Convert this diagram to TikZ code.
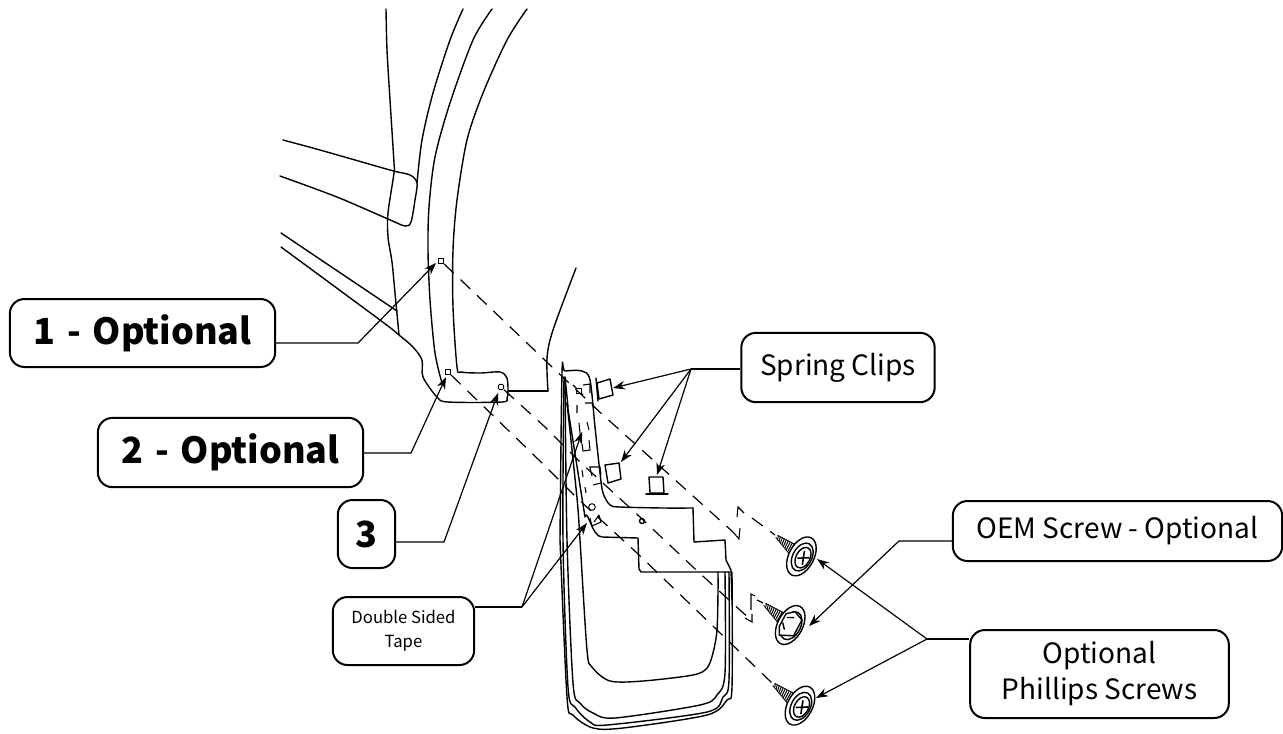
\documentclass[tikz,border=0pt]{standalone}
\usepackage{fontspec}
\setmainfont{Noto Sans CJK SC}
\usetikzlibrary{arrows.meta,calc}
\tikzset{
  art/.style={line width=1.05pt,black,line join=round,line cap=round},
  thin art/.style={line width=.8pt,black,line join=round},
  lab/.style={draw,line width=1.5pt,rounded corners=11pt,align=center,inner sep=0pt,fill=white,text=black},
  big/.style={lab,font=\fontsize{27}{30}\selectfont\bfseries},
  mid/.style={lab,font=\fontsize{21}{27}\selectfont},
  small/.style={lab,font=\fontsize{12.5}{18}\selectfont},
  lead/.style={line width=.9pt,black,-{Stealth[length=9pt,width=6.5pt]}},
  trunk/.style={line width=.9pt,black},
  axisline/.style={line width=.9pt,black,dash pattern=on 10pt off 7pt},
  tape/.style={line width=.8pt,black},
  hole/.style={draw,line width=.7pt,minimum size=4pt,inner sep=0pt,fill=white},
}
\newcommand{\threads}{%
  \foreach \t in {3,5.2,...,27}{
    \draw[line width=.75pt] ({\t},{-(1+.2*\t)}) -- ({\t+1.8},{1+.2*\t});
  }
  \draw[line width=.6pt] (2,-1.4) -- (27,-6.5) (2,1.4) -- (27,6.5);
}
\newcommand{\washer}[1]{%
  \draw[art,fill=white,rotate around={101:(#1,0)}] (#1,0) ellipse [x radius=21,y radius=12.5];
  \draw[art,fill=white,rotate around={101:(#1+1,0)}] (#1+1,0) ellipse [x radius=15,y radius=9.5];
}
\newcommand{\phillips}[1]{%
  \washer{#1}
  \draw[art,rotate around={101:(#1+2,0)}] (#1+2,0) ellipse [x radius=11,y radius=7];
  \draw[line width=1.2pt] (#1-1,-6) -- (#1+6,6) (#1+7,-4) -- (#1-2,4);
}
\begin{document}
\begin{tikzpicture}[x=.75pt,y=-.75pt]
\path[clip] (0,0) rectangle (1283,733);
\fill[white] (0,0) rectangle (1283,733);

% body lines
\draw[art] plot[smooth,tension=.5] coordinates {(386,9) (387,50) (390,100) (394,163) (394,173) (388,213) (388,237) (392,262) (395,293) (399,335)};
\draw[art] plot[smooth,tension=.5] coordinates {(463,9) (450,40) (433,93) (422,140) (417,183)};
\draw[art] plot[smooth,tension=.5] coordinates {(283,140) (320,150) (390,170) (410,175) (417,183) (415,200) (411,222) (405,226) (388,219) (337,197) (280,176)};
\draw[art] plot[smooth,tension=.5] coordinates {(492,9) (473,40) (450,103) (435,157) (429,207) (428,250) (430,300) (435,353) (442,383)};
\draw[art] plot[smooth,tension=.5] coordinates {(527,9) (507,40) (483,93) (467,140) (457,200) (453,250) (453,307) (457,367) (461,372) (480,373) (500,372) (507,378) (508,392) (507,398) (502,402) (448,402) (437,397) (423,377) (422,360) (413,347) (399,335) (380,320) (281,247)};
\draw[art] (281,233) -- (397,311);
\draw[art] plot[smooth,tension=.5] coordinates {(508,391) (548,391)};
\draw[art] plot[smooth,tension=.5] coordinates {(548,391) (547,358) (553,330) (576,268)};

% mud flap
\draw[art] plot[smooth,tension=.5] coordinates {(560,540) (562,373) (565,371) (582,371) (590,380) (595,427) (600,473) (603,493) (610,505) (620,507) (663,508) (693,508)};
\draw[art] (693,508) -- (694,542) -- (725,540) -- (726,560) -- (731,570) -- (732,600);
\draw[art] plot[smooth,tension=.5] coordinates {(732,572) (732,687) (727,700) (707,715) (623,728) (593,728) (573,715) (567,697) (560,540)};
\draw[art] plot[smooth,tension=.5] coordinates {(564,377) (563,540) (568,687) (575,707) (590,722) (607,725) (707,712) (723,697) (729,680) (729,572)};
\draw[art] plot[smooth,tension=.5] coordinates {(565,377) (567,540) (573,683) (580,703) (593,713) (615,718) (700,705) (717,695) (725,673) (725,572)};
\draw[art] plot[smooth,tension=.5] coordinates {(567,403) (577,498) (580,540) (587,650) (592,667) (610,681) (643,681) (693,675) (707,668) (713,653) (717,630) (718,592) (718,572)};
\draw[art] (567,403) -- (585,517) to[out=75,in=180] (602,537) -- (638,538) -- (639,569) -- (641,572) -- (730,572);
\draw[art] (565,377) -- (568,407);

% tape and clip marks on the flap
\draw[tape] (577,405) -- (577,413) (579,423) -- (581,443) (587,422) -- (589,430) (589,440) -- (590,450) -- (583,451) -- (582,444);
\draw[tape] (582,470) -- (583,477) (585,487) -- (586,493) (589,467) -- (600,467) -- (601,475) (593,485) -- (601,483) (590,468) -- (592,476);
\draw[tape] (590,518) -- (592,526) -- (601,522) -- (599,515) (594,522) -- (599,515);
\draw[tape] (573,385) -- (583,395) (583,385) -- (590,384) -- (590,393) (585,403) -- (592,403) -- (594,408);
\draw[art] (642,521) circle [radius=2.5];

% spring clips
\draw[art] (597,383) -- (610,379) -- (613,395) -- (599,399) -- cycle;
\draw[art] (596,378) -- (598,401);
\draw[art] (605,465) -- (619,463) -- (621,479) -- (608,483) -- cycle;
\draw[art] (649,477) -- (663,477) -- (664,493) -- (650,493) -- cycle;
\draw[art] (646,494) -- (668,494);

% holes
\node[hole] (h1) at (441,261) {};
\node[hole] (h2) at (448,372) {};
\node[hole,rounded corners=1pt] (h3) at (501,387) {};
\node[hole] (f1) at (579,391) {};
\node[hole,circle,minimum size=5pt] (f2) at (592,507) {};

% screws
\begin{scope}[shift={(775,535)},rotate=-39]
  \threads
  \phillips{34}
\end{scope}
\begin{scope}[shift={(763,603)},rotate=-39]
  \threads
  \washer{35}
  \draw[art,fill=white,rotate around={101:(35,0)}] (35,0) +(-14,-5) -- +(-6,-9) -- +(8,-9) -- +(14,-2) -- +(10,8) -- +(-8,8) -- cycle;
  \draw[art] (28,-4) -- (33,-8) (28,3) -- (33,7);
\end{scope}
\begin{scope}[shift={(772,683)},rotate=-39]
  \threads
  \phillips{36}
\end{scope}

% screw coordinates
\coordinate (s1a) at (733,532);
\coordinate (s1b) at (752,518);
\coordinate (s1c) at (775,535);
\coordinate (s2a) at (752,621);
\coordinate (s2b) at (757,600);
\coordinate (s2c) at (763,603);
\coordinate (s3c) at (772,683);

% axis lines
\draw[axisline] (h1) -- (550,365) -- (603,415) -- (s1a);
\draw[axisline] (s1b) -- (s1c);
\draw[axisline] (h3) -- (545,427) -- (580,462) -- (640,517) -- (693,567) -- (s2a);
\draw[axisline] (s2b) -- (s2c);
\draw[axisline] (h2) -- (542,463) -- (577,498) -- (637,553) -- (717,630) -- (s3c);

% zigzags
\draw[tape] (737,517) -- (738,507) -- (744,513) (733,532) -- (739,539) -- (740,528);
\draw[tape] (751,610) -- (751,594) -- (755,596) (745,618) -- (752,622) -- (752,614);

% labels
\node[big,minimum width=265\pgflinewidth,text width=0pt] at (-100,-100) {};
\node[big,minimum width=199pt,minimum height=51pt] (b1) at (142.5,333) {1\,\,-\,\,Optional};
\node[big,minimum width=199pt,minimum height=52pt] (b2) at (230.5,452.5) {2\,\,-\,\,Optional};
\node[big,minimum width=43pt,minimum height=51pt] (b3) at (366.5,534) {3};
\node[small,minimum width=106pt,minimum height=51pt] (b4) at (403.5,631) {Double Sided\\Tape};
\node[mid,minimum width=145pt,minimum height=52pt] (b5) at (838,367.5) {Spring Clips};
\node[mid,minimum width=247pt,minimum height=45pt] (b6) at (1117.5,531) {OEM Screw - Optional};
\node[mid,minimum width=194pt,minimum height=66pt] (b7) at (1099.5,674) {Optional\\Phillips Screws};

% leaders
\draw[lead] (b1.east |- 0,343) -- (358,343) -- (436,263);
\draw[lead] (b2.east |- 0,453) -- (411,453) -- (446,377);
\draw[lead] (b3.east |- 0,542) -- (444,542) -- (498,393);
\coordinate (t4) at (522,607);
\draw[trunk] (b4.east |- 0,607) -- (t4);
\draw[lead] (t4) -- (582,432);
\draw[lead] (t4) -- (587,523);
\coordinate (t5) at (691,369);
\draw[trunk] (b5.west |- 0,369) -- (t5);
\draw[lead] (t5) -- (613,388);
\draw[lead] (t5) -- (621,462);
\draw[lead] (t5) -- (657,475);
\draw[lead] (b6.west |- 0,541) -- (899,541) -- (809,626);
\coordinate (t7) at (927,639);
\draw[trunk] (b7.west |- 0,639) -- (t7);
\draw[lead] (t7) -- (817,559);
\draw[lead] (t7) -- (816,698);
\end{tikzpicture}
\end{document}
